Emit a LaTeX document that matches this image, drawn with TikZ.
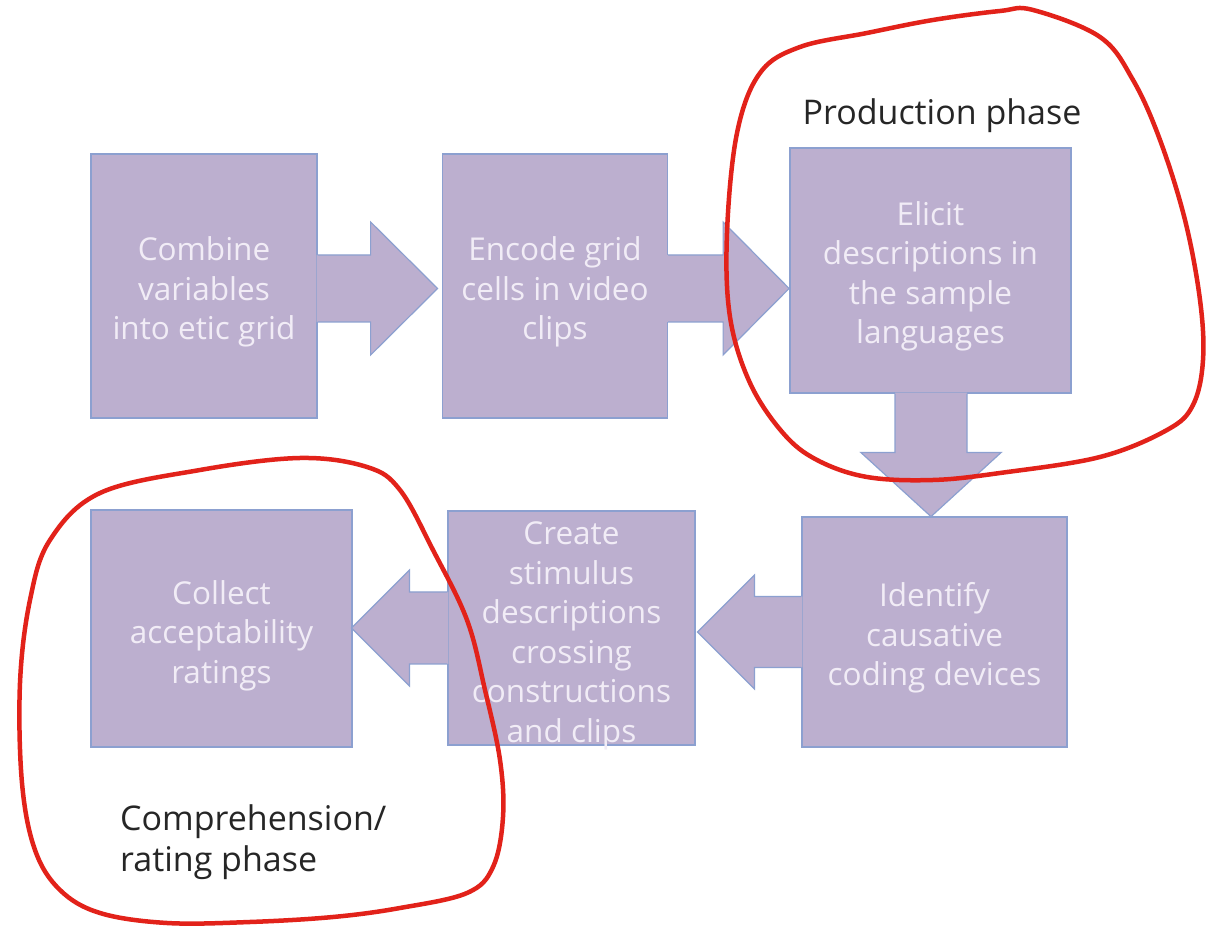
\documentclass[tikz,border=0pt]{standalone}
\usepackage{fontspec}
\setmainfont{Open Sans}
\usetikzlibrary{calc}
\definecolor{boxfill}{RGB}{188,175,207}
\definecolor{boxline}{RGB}{140,160,208}
\definecolor{boxtext}{RGB}{241,236,246}
\definecolor{loopred}{RGB}{226,34,26}
\tikzset{
  stepbox/.style={rectangle, fill=boxfill, draw=boxline, line width=1.2pt, inner sep=0pt},
  steptext/.style={align=center, text=boxtext, inner sep=0pt, font=\fontsize{31.5}{39.5}\selectfont},
  fatfill/.style={fill=boxfill},
  fatline/.style={draw=boxline, line width=1.2pt, line join=miter},
  phase/.style={text=black!85, font=\fontsize{34}{41}\selectfont, inner sep=0pt},
  loop/.style={draw=loopred, line width=4.5pt, line cap=round}
}
\begin{document}
\begin{tikzpicture}[x=1pt,y=1pt]
\useasboundingbox (0,0) rectangle (1207,929);
\fill[white] (0,0) rectangle (1207,929);

% boxes
\node[stepbox, minimum width=226pt, minimum height=264pt] (b1) at (204,643) {};
\node[stepbox, minimum width=225pt, minimum height=264pt] (b2) at (555,643) {};
\node[stepbox, minimum width=281pt, minimum height=245pt] (b3) at (930.5,658.5) {};
\node[stepbox, minimum width=265pt, minimum height=230pt] (b4) at (934.5,297) {};
\node[stepbox, minimum width=247pt, minimum height=234pt] (b5) at (571.5,301) {};
\node[stepbox, minimum width=261pt, minimum height=237pt] (b6) at (221.5,300.5) {};

% box texts
\node[steptext] (t1) at ($(b1.center)+(0,-6)$) {Combine\\variables\\into etic grid};
\node[steptext] (t2) at ($(b2.center)+(0,-6)$) {Encode grid\\cells in video\\clips};
\node[steptext] (t3) at ($(b3.center)+(0,-6)$) {Elicit\\descriptions in\\the sample\\languages};
\node[steptext] (t4) at ($(b4.center)+(0,-6)$) {Identify\\causative\\coding devices};
\node[steptext] (t5) at ($(b5.center)+(0,-8)$) {Create\\stimulus\\descriptions\\crossing\\constructions\\and clips};
\node[steptext] (t6) at ($(b6.center)+(0,-7)$) {Collect\\acceptability\\ratings};

% arrow b1 -> b2
\fill[fatfill] ($(b1.east)+(-1,31)$) -- ++(54,0) -- ++(0,33) -- ++(67,-66.5) -- ++(-67,-66.5) -- ++(0,33) -- ++(-54,0) -- cycle;
\draw[fatline] ($(b1.east)+(0,31)$) -- ++(53,0) -- ++(0,33) -- ++(67,-66.5) -- ++(-67,-66.5) -- ++(0,33) -- ++(-53,0);
% arrow b2 -> b3
\fill[fatfill] ($(b2.east)+(-1,31)$) -- ++(56,0) -- ++(0,33) -- ++(66,-66.5) -- ++(-66,-66.5) -- ++(0,33) -- ++(-56,0) -- cycle;
\draw[fatline] ($(b2.east)+(0,31)$) -- ++(55,0) -- ++(0,33) -- ++(66,-66.5) -- ++(-66,-66.5) -- ++(0,33) -- ++(-55,0);
% arrow b3 -> b4
\fill[fatfill] ($(b3.south)+(-35.5,1)$) -- ++(0,-60) -- ++(-34,0) -- ++(70,-64) -- ++(70,64) -- ++(-34,0) -- ++(0,60) -- cycle;
\draw[fatline] ($(b3.south)+(-35.5,0)$) -- ++(0,-59) -- ++(-34,0) -- ++(70,-64) -- ++(70,64) -- ++(-34,0) -- ++(0,59);
% arrow b4 -> b5
\fill[fatfill] ($(b4.west)+(1,35.5)$) -- ++(-48,0) -- ++(0,21.5) -- ++(-57,-57) -- ++(57,-57) -- ++(0,21.5) -- ++(48,0) -- cycle;
\draw[fatline] ($(b4.west)+(0,35.5)$) -- ++(-47,0) -- ++(0,21.5) -- ++(-57,-57) -- ++(57,-57) -- ++(0,21.5) -- ++(47,0);
% arrow b5 -> b6
\fill[fatfill] ($(b5.west)+(1,36)$) -- ++(-39,0) -- ++(0,22) -- ++(-58,-58) -- ++(58,-58) -- ++(0,22) -- ++(39,0) -- cycle;
\draw[fatline] ($(b5.west)+(0,36)$) -- ++(-38,0) -- ++(0,22) -- ++(-58,-58) -- ++(58,-58) -- ++(0,22) -- ++(38,0);

% phase labels
\node[phase, anchor=base] (prod) at (942,804) {Production phase};
\node[phase, anchor=north west, align=left] (comp) at (120,125) {Comprehension/\\rating phase};

% red loops
\draw[loop] plot[smooth cycle, tension=0.6] coordinates {
 (1033,919) (1100,892) (1133,849) (1160,789) (1185,709) (1200,629) (1203,569)
 (1193,524) (1167,499) (1100,472) (1000,456) (933,449) (867,452) (817,469)
 (783,496) (750,546) (730,612) (727,696) (737,796) (760,856) (800,882)
 (867,896) (933,909) (1000,918)};
\draw[loop] plot[smooth cycle, tension=0.6] coordinates {
 (50,389) (100,436) (200,459) (300,471) (367,462) (400,439) (433,379)
 (467,309) (485,239) (500,169) (503,112) (493,62) (467,36) (400,21)
 (333,12) (250,7) (167,6) (100,16) (60,39) (35,79) (22,146) (20,246) (30,329)};
\end{tikzpicture}
\end{document}
